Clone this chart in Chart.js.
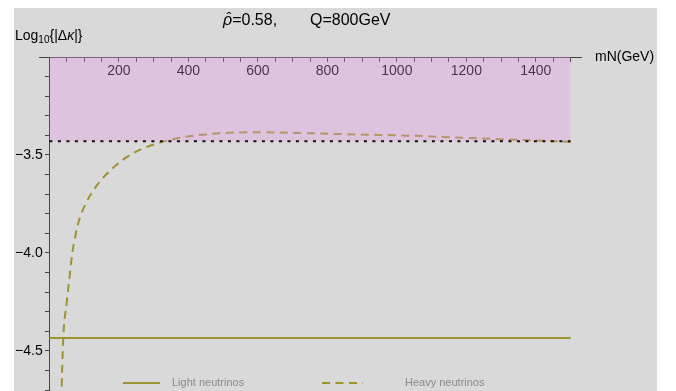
<!DOCTYPE html>
<html>
<head>
<meta charset="utf-8">
<script src="https://cdn.jsdelivr.net/npm/chart.js@4.4.0/dist/chart.umd.min.js"></script>
<style>
  body { margin: 0; background: #fff; }
  #wrap { position: absolute; left: 14px; top: 8px; width: 643px; height: 383px; background: #d9d9d9; }
</style>
</head>
<body>
<div id="wrap"><canvas id="myChart"></canvas></div>
<script>
// data
const heavyMass = [34, 40, 50, 55, 66, 75, 86, 107, 136, 180, 237, 328, 424, 590, 722, 895, 1010, 1300, 1500];
const heavyLog = [-4.75, -4.43, -4.25, -4.17, -4.0, -3.91, -3.83, -3.74, -3.657, -3.571, -3.495, -3.432, -3.40, -3.384, -3.388, -3.396, -3.40, -3.42, -3.432];
const lightMass = [0, 1500];
const lightLog = [-4.434, -4.434];
const boundMass = [0, 1500];
const boundLog = [-3.43, -3.43];
const xLabels = [200, 400, 600, 800, 1000, 1200, 1400];
const yLabels = [-3.5, -4.0, -4.5];

const olive = '#9d942f';
const toXY = (xs, ys) => xs.map((x, i) => ({x: x, y: ys[i]}));

Chart.defaults.font.family = "'Liberation Sans', Arial, sans-serif";
Chart.defaults.color = '#000';

// titles, axis labels and the overlaid legend
const textPlugin = {
  id: 'texts',
  afterDraw(chart) {
    const ctx = chart.ctx;
    ctx.save();
    ctx.fillStyle = '#000';
    ctx.textBaseline = 'alphabetic';
    // title
    ctx.font = "italic 16px 'Liberation Sans', Arial";
    ctx.fillText('\u03c1', 209, 17);
    let w = ctx.measureText('\u03c1').width;
    ctx.font = "15px 'Liberation Sans', Arial";
    ctx.textAlign = 'center';
    ctx.fillText('\u02c6', 209 + w / 2 + 1.5, 15);
    ctx.textAlign = 'left';
    ctx.font = "16px 'Liberation Sans', Arial";
    ctx.fillText('=0.58,', 209 + w, 17);
    ctx.fillText('Q=800GeV', 296, 17);
    // y label
    let x = 1;
    ctx.font = "14px 'Liberation Sans', Arial";
    ctx.fillText('Log', x, 32); x += ctx.measureText('Log').width;
    ctx.font = "10px 'Liberation Sans', Arial";
    ctx.fillText('10', x, 35); x += ctx.measureText('10').width;
    ctx.font = "14px 'Liberation Sans', Arial";
    ctx.fillText('{|\u0394', x, 32); x += ctx.measureText('{|\u0394').width;
    ctx.font = "italic 14px 'Liberation Sans', Arial";
    ctx.fillText('\u03ba', x, 32); x += ctx.measureText('\u03ba').width;
    ctx.font = "14px 'Liberation Sans', Arial";
    ctx.fillText('|}', x, 32);
    // x label
    ctx.textBaseline = 'middle';
    ctx.fillText('mN(GeV)', 581, 49);
    // legend
    const items = chart.data.datasets.filter(d => d.label);
    const pos = [[109, 146, 158], [308, 349, 391]];
    ctx.font = "11px 'Liberation Sans', Arial";
    items.forEach((d, i) => {
      const p = pos[i];
      ctx.strokeStyle = d.borderColor;
      ctx.lineWidth = 2;
      ctx.setLineDash(d.borderDash || []);
      ctx.beginPath();
      ctx.moveTo(p[0], 375);
      ctx.lineTo(p[1], 375);
      ctx.stroke();
      ctx.setLineDash([]);
      ctx.fillStyle = '#8a8a8a';
      ctx.fillText(d.label, p[2], 375);
    });
    ctx.restore();
  }
};

const data = {
  datasets: [
    {
      data: toXY(boundMass, boundLog),
      borderColor: '#111',
      borderWidth: 2,
      borderDash: [3, 5.5],
      pointRadius: 0,
      order: 0
    },
    {
      data: toXY(boundMass, boundLog),
      borderWidth: 0,
      backgroundColor: 'rgba(232, 150, 232, 0.32)',
      fill: 'end',
      pointRadius: 0,
      order: 1
    },
    {
      label: 'Light neutrinos',
      data: toXY(lightMass, lightLog),
      borderColor: olive,
      borderWidth: 2,
      pointRadius: 0,
      order: 2
    },
    {
      label: 'Heavy neutrinos',
      data: toXY(heavyMass, heavyLog),
      borderColor: olive,
      borderWidth: 2,
      borderDash: [8, 5.5],
      cubicInterpolationMode: 'monotone',
      pointRadius: 0,
      order: 3
    }
  ]
};

const config = {
  type: 'line',
  data: data,
  options: {
    responsive: true,
    maintainAspectRatio: false,
    animation: false,
    layout: { padding: { left: 25, top: 49, right: 76, bottom: 0 } },
    plugins: {
      legend: { display: false },
      tooltip: { enabled: false }
    },
    scales: {
      x: {
        type: 'linear',
        min: -30,
        max: 1530,
        position: { y: -3.0 },
        border: { display: true, color: '#444', width: 1 },
        grid: { drawOnChartArea: false, tickLength: 4, color: '#444' },
        ticks: {
          stepSize: 50,
          autoSkip: false,
          maxRotation: 0,
          includeBounds: false,
          padding: 2,
          font: { size: 14 },
          showLabelBackdrop: true,
          backdropColor: '#d9d9d9',
          backdropPadding: 0,
          callback: v => xLabels.includes(Math.round(v)) ? String(Math.round(v)) : ''
        },
        afterFit: s => { s.paddingLeft = 0; s.paddingRight = 0; }
      },
      y: {
        type: 'linear',
        min: -4.705,
        max: -3.0,
        position: { x: 0 },
        border: { display: true, color: '#444', width: 1 },
        grid: { drawOnChartArea: false, tickLength: 4, color: '#444' },
        ticks: {
          stepSize: 0.1,
          autoSkip: false,
          includeBounds: false,
          font: { size: 14 },
          // trailing spaces keep the label clear of the axis line
          callback: v => {
            const r = Math.round(v * 10) / 10;
            return yLabels.includes(r) ? r.toFixed(1).replace('-', '\u2212') + ' \u2009' : '';
          }
        },
        afterFit: s => { s.paddingTop = 0; s.paddingBottom = 0; }
      }
    }
  },
  plugins: [textPlugin]
};

const myChart = new Chart(document.getElementById('myChart'), config);
</script>
</body>
</html>
